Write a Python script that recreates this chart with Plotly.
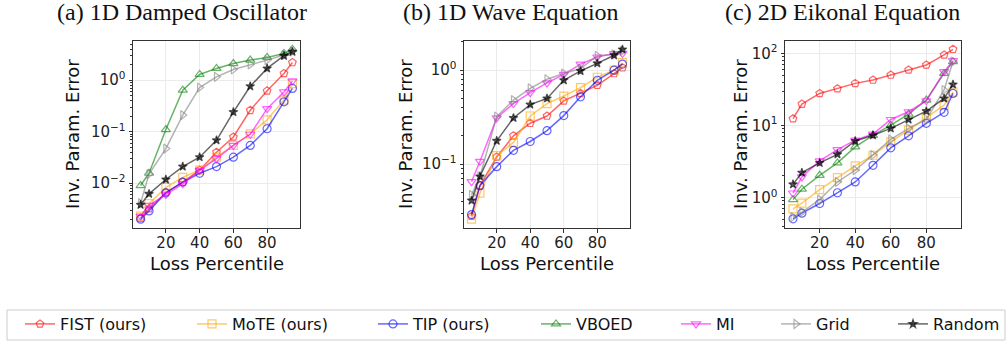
import plotly.graph_objects as go

W, H = 1008, 343

percentiles = [5, 10, 20, 30, 40, 50, 60, 70, 80, 90, 95]

method_names = ["FIST (ours)", "MoTE (ours)", "TIP (ours)", "VBOED", "MI", "Grid", "Random"]
method_colors = ["rgba(255,0,0,0.6)", "rgba(255,165,0,0.6)", "rgba(0,0,255,0.6)",
                 "rgba(0,128,0,0.6)", "rgba(255,0,255,0.6)", "rgba(128,128,128,0.6)",
                 "rgba(0,0,0,0.6)"]
method_symbols = ["pentagon-open", "square-open", "circle-open", "triangle-up-open",
                  "triangle-down-open", "triangle-right-open", "star"]
method_sizes = [8, 8, 8, 8, 8, 8, 6.5]

# (a) 1D Damped Oscillator
osc_fist = [0.0021, 0.0032, 0.0066, 0.0105, 0.018, 0.040, 0.079, 0.26, 0.62, 1.35, 2.2]
osc_mote = [0.0023, 0.0040, 0.0083, 0.013, 0.018, 0.032, 0.054, 0.091, 0.17, 0.41, 0.86]
osc_tip = [0.0020, 0.0029, 0.0065, 0.0105, 0.0156, 0.021, 0.032, 0.054, 0.114, 0.38, 0.69]
osc_vboed = [0.0090, 0.0156, 0.11, 0.64, 1.29, 1.69, 2.1, 2.45, 2.76, 3.3, 4.0]
osc_mi = [0.0023, 0.0037, 0.0060, 0.0097, 0.0177, 0.030, 0.054, 0.089, 0.28, 0.59, 0.97]
osc_grid = [0.0041, 0.015, 0.047, 0.21, 0.72, 1.16, 1.61, 2.02, 2.45, 3.07, 3.6]
osc_random = [0.0038, 0.0062, 0.0118, 0.021, 0.032, 0.068, 0.24, 0.76, 1.69, 2.98, 3.56]

# (b) 1D Wave Equation (no VBOED)
wave_fist = [0.0279, 0.059, 0.119, 0.20, 0.272, 0.325, 0.47, 0.566, 0.69, 0.92, 1.06]
wave_mote = [0.026, 0.049, 0.123, 0.17, 0.325, 0.44, 0.53, 0.65, 0.84, 1.0, 1.2]
wave_tip = [0.029, 0.059, 0.094, 0.14, 0.174, 0.227, 0.328, 0.52, 0.78, 1.0, 1.16]
wave_vboed = [None] * 11
wave_mi = [0.065, 0.107, 0.31, 0.44, 0.575, 0.73, 0.90, 1.16, 1.38, 1.50, 1.50]
wave_grid = [0.047, 0.074, 0.32, 0.48, 0.64, 0.80, 0.92, 1.04, 1.42, 1.47, 1.59]
wave_random = [0.041, 0.074, 0.177, 0.31, 0.43, 0.50, 0.78, 0.98, 1.18, 1.44, 1.66]

# (c) 2D Eikonal Equation
eik_fist = [12.4, 19.8, 27.8, 32.3, 38.3, 42.6, 50.0, 58.7, 68.9, 94.8, 113.6]
eik_mote = [0.70, 0.84, 1.29, 1.9, 2.75, 3.87, 5.93, 8.6, 12.8, 19.1, 29.0]
eik_tip = [0.51, 0.61, 0.83, 1.17, 1.65, 2.81, 4.9, 7.18, 10.7, 15.2, 27.8]
eik_vboed = [0.94, 1.31, 2.04, 3.03, 5.06, 7.3, 10.1, 14.4, 22.5, 52.7, 76.6]
eik_mi = [1.16, 1.94, 3.23, 4.64, 6.25, 7.6, 12.1, 15.5, 22.0, 55.6, 79.0]
eik_grid = [0.54, 0.63, 0.94, 1.65, 2.4, 3.9, 6.4, 9.1, 12.1, 31.0, 76.8]
eik_random = [1.53, 2.22, 3.03, 3.98, 6.1, 7.3, 9.1, 12.1, 15.8, 23.7, 37.0]

panel_titles = ["(a) 1D Damped Oscillator", "(b) 1D Wave Equation", "(c) 2D Eikonal Equation"]
x_ticks = [20, 40, 60, 80]
panel_ytickvals = [[0.01, 0.1, 1], [0.1, 1], [1, 10, 100]]
panel_yticktext = [["10<sup>−2</sup>", "10<sup>−1</sup>", "10<sup>0</sup>"],
                   ["10<sup>−1</sup>", "10<sup>0</sup>"],
                   ["10<sup>0</sup>", "10<sup>1</sup>", "10<sup>2</sup>"]]

panels = [
    [osc_fist, osc_mote, osc_tip, osc_vboed, osc_mi, osc_grid, osc_random],
    [wave_fist, wave_mote, wave_tip, wave_vboed, wave_mi, wave_grid, wave_random],
    [eik_fist, eik_mote, eik_tip, eik_vboed, eik_mi, eik_grid, eik_random],
]

# layout geometry (pixels)
px_x = [(133, 300), (464, 630), (785, 961)]
px_top, px_bot = 41, 228
y_ranges = [(-2.87, 0.76), (-1.68, 0.31), (-0.42, 2.17)]
title_cx = [182, 511, 842]
ylabel_cx = [72, 405, 740]

fig = go.Figure()

legend_text_start = [64, 236, 417, 580, 720, 820, 937]
legend_keys = ["legend"] + [f"legend{i}" for i in range(2, 8)]

for p, series in enumerate(panels):
    ax = "" if p == 0 else str(p + 1)
    for m, vals in enumerate(series):
        if all(v is None for v in vals):
            continue
        fig.add_trace(go.Scatter(
            x=percentiles, y=vals, mode="lines+markers",
            name=method_names[m],
            xaxis="x" + ax, yaxis="y" + ax,
            line=dict(color=method_colors[m], width=1.5),
            marker=dict(symbol=method_symbols[m], size=method_sizes[m], color=method_colors[m],
                        line=dict(color=method_colors[m], width=1.2)),
            showlegend=(p == 0),
            legend=legend_keys[m],
        ))

layout = dict(
    template="none",
    width=W, height=H,
    margin=dict(l=0, r=0, t=0, b=0, pad=0),
    plot_bgcolor="white", paper_bgcolor="white",
    font=dict(family="DejaVu Sans", color="#222"),
    annotations=[], shapes=[],
)

ydom = [1 - px_bot / H, 1 - px_top / H]
for p in range(3):
    ax = "" if p == 0 else str(p + 1)
    x0, x1 = px_x[p]
    layout["xaxis" + ax] = dict(
        domain=[x0 / W, x1 / W], range=[0.5, 99.5], anchor="y" + ax, automargin=False,
        tickmode="array", tickvals=x_ticks, ticks="outside", ticklen=3.5, tickwidth=1,
        tickcolor="#333", showline=True, linecolor="#333", linewidth=1, mirror=True,
        showgrid=True, gridcolor="#ebebeb", gridwidth=1, zeroline=False,
        ticklabelstandoff=-3,
        tickfont=dict(size=15, family="DejaVu Sans", color="#222"),
    )
    layout["yaxis" + ax] = dict(
        domain=ydom, type="log", range=list(y_ranges[p]), anchor="x" + ax, automargin=False,
        tickmode="array", tickvals=panel_ytickvals[p], ticktext=panel_yticktext[p],
        ticks="outside", ticklen=3.5, tickwidth=1, tickcolor="#333",
        showline=True, linecolor="#333", linewidth=1, mirror=True,
        showgrid=True, gridcolor="#ebebeb", gridwidth=1, zeroline=False,
        tickfont=dict(size=15, family="DejaVu Sans", color="#222"),
        minor=dict(ticks="outside", ticklen=2, tickwidth=0.8, tickcolor="#333",
                   dtick="D1", showgrid=False),
    )
    layout["annotations"].append(dict(
        text=panel_titles[p], x=title_cx[p] / W, y=1 - 12 / H, xref="paper", yref="paper",
        xanchor="center", yanchor="middle", showarrow=False,
        font=dict(family="Liberation Serif", size=24, color="#111")))
    layout["annotations"].append(dict(
        text="Loss Percentile", x=(x0 + x1) / 2 / W, y=1 - 263 / H, xref="paper", yref="paper",
        xanchor="center", yanchor="middle", showarrow=False,
        font=dict(family="DejaVu Sans", size=18, color="#111")))
    layout["annotations"].append(dict(
        text="Inv. Param. Error", x=ylabel_cx[p] / W, y=1 - 134 / H, xref="paper", yref="paper",
        xanchor="center", yanchor="middle", showarrow=False, textangle=-90,
        font=dict(family="DejaVu Sans", size=18, color="#111")))

for i, key in enumerate(legend_keys):
    layout[key] = dict(
        x=(legend_text_start[i] - 44) / W, y=1 - 324 / H, xanchor="left", yanchor="middle",
        orientation="h", bgcolor="rgba(0,0,0,0)", borderwidth=0, tracegroupgap=0,
        font=dict(family="DejaVu Sans", size=16, color="#111"),
    )

layout["shapes"].append(dict(
    type="rect", xref="paper", yref="paper", x0=7 / W, x1=1005 / W,
    y0=1 - 340 / H, y1=1 - 310 / H, line=dict(color="#cccccc", width=1),
    fillcolor="rgba(0,0,0,0)", layer="below"))

fig.update_layout(**layout)
fig.write_html("out.html", config={"displayModeBar": False},
               post_script="document.body.style.margin='0';document.body.style.padding='0';")
